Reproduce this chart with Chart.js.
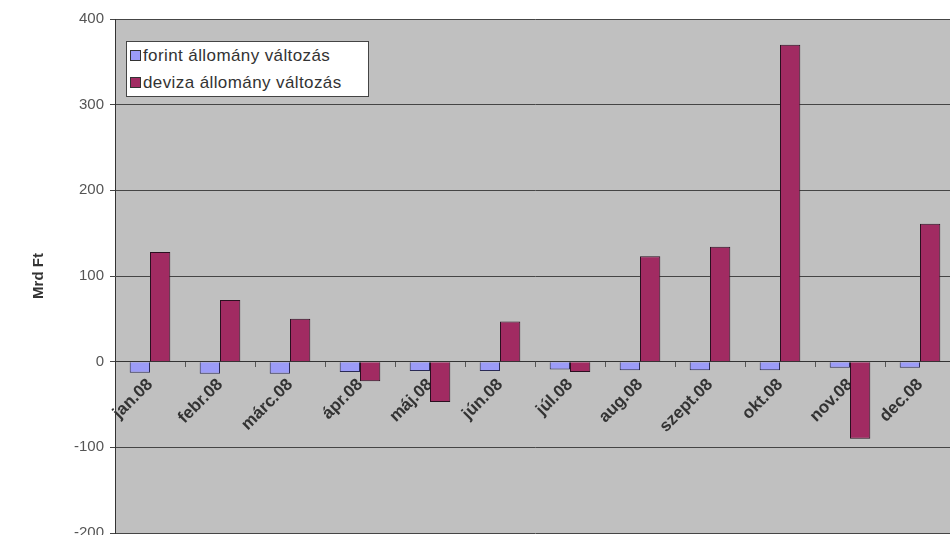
<!DOCTYPE html>
<html>
<head>
<meta charset="utf-8">
<script src="https://cdn.jsdelivr.net/npm/chart.js@4.4.1/dist/chart.umd.min.js"></script>
<style>
  html, body { margin: 0; padding: 0; background: #fff; overflow: hidden; }
  #wrap { position: relative; width: 960px; height: 548px; }
  #legend {
    position: absolute; left: 126px; top: 41px; width: 241px; height: 54px;
    background: #fff; border: 1px solid #444;
    font: 17px "Liberation Sans", Arial, sans-serif; letter-spacing: 0.4px; color: #333;
  }
  #legend .row { position: absolute; left: 3px; height: 18px; line-height: 18px; white-space: nowrap; }
  #legend .sw { display: inline-block; width: 9px; height: 9px; border: 1px solid #333; margin-right: 2px; vertical-align: 0px; }
</style>
</head>
<body>
<div id="wrap">
  <canvas id="c" width="960" height="548"></canvas>
  <div id="legend"></div>
</div>
<script>
// honapok (2008)
const months = ['jan.08', 'febr.08', 'márc.08', 'ápr.08', 'máj.08', 'jún.08',
                'júl.08', 'aug.08', 'szept.08', 'okt.08', 'nov.08', 'dec.08'];
// Mrd Ft
const forintChange = [-13, -14, -14, -12, -11, -11, -9, -10, -10, -10, -7, -7];
const devizaChange = [128, 72, 50, -23, -47, 47, -12, 123, 134, 370, -90, 161];
const seriesNames = ['forint állomány változás', 'deviza állomány változás'];
const yTicks = [-200, -100, 0, 100, 200, 300, 400];

const colForint = '#9c9cf8';
const colDeviza = '#a12b62';

// szurke hatter a rajzterulet alatt
const plotBg = {
  id: 'plotBg',
  beforeDraw(chart) {
    const { ctx, chartArea: a } = chart;
    ctx.save();
    ctx.fillStyle = '#c0c0c0';
    ctx.fillRect(a.left, a.top, a.right - a.left, a.bottom - a.top);
    ctx.restore();
  }
};

new Chart(document.getElementById('c'), {
  type: 'bar',
  data: {
    labels: months,
    datasets: [
      { label: seriesNames[0], data: forintChange, backgroundColor: colForint, borderColor: '#2a2a55', borderWidth: 1 },
      { label: seriesNames[1], data: devizaChange, backgroundColor: colDeviza, borderColor: '#2a1020', borderWidth: 1 }
    ]
  },
  options: {
    responsive: false, animation: false,
    layout: { padding: { left: 26, top: 19, right: 5, bottom: 0 } },
    datasets: { bar: { barPercentage: 1, categoryPercentage: 0.58 } },
    plugins: { legend: { display: false }, tooltip: { enabled: false } },
    scales: {
      x: {
        position: { y: 0 },
        offset: true,
        // hosszu tick a feliratok miatt, de csak az elso 5 px latszik
        grid: { offset: true, drawOnChartArea: false, drawTicks: true, tickLength: 13,
                tickBorderDash: [5, 60], color: '#555' },
        border: { display: true, color: '#333', width: 1 },
        ticks: {
          minRotation: 45, maxRotation: 45, autoSkip: false, padding: 0,
          color: '#333', font: { family: 'Liberation Sans', size: 17, weight: 'bold' }
        }
      },
      y: {
        min: -200, max: 400,
        afterFit(s) { s.width = 89; },
        afterBuildTicks(s) { s.ticks = yTicks.map(v => ({ value: v })); },
        grid: { color: '#454545', lineWidth: 1, tickLength: 5 },
        border: { display: true, color: '#333', width: 1 },
        ticks: { color: '#555', padding: 6, font: { family: 'Liberation Sans', size: 15 } },
        title: {
          display: true, text: 'Mrd Ft', color: '#333', padding: 4,
          font: { family: 'Liberation Sans', size: 15, weight: 'bold' }
        }
      }
    }
  },
  plugins: [plotBg]
});

// jelmagyarazat (szoveges)
const legendEl = document.getElementById('legend');
[colForint, colDeviza].forEach((c, i) => {
  const row = document.createElement('div');
  row.className = 'row';
  row.style.top = (5 + i * 27) + 'px';
  row.innerHTML = '<span class="sw" style="background:' + c + '"></span>' + seriesNames[i];
  legendEl.appendChild(row);
});
</script>
</body>
</html>
